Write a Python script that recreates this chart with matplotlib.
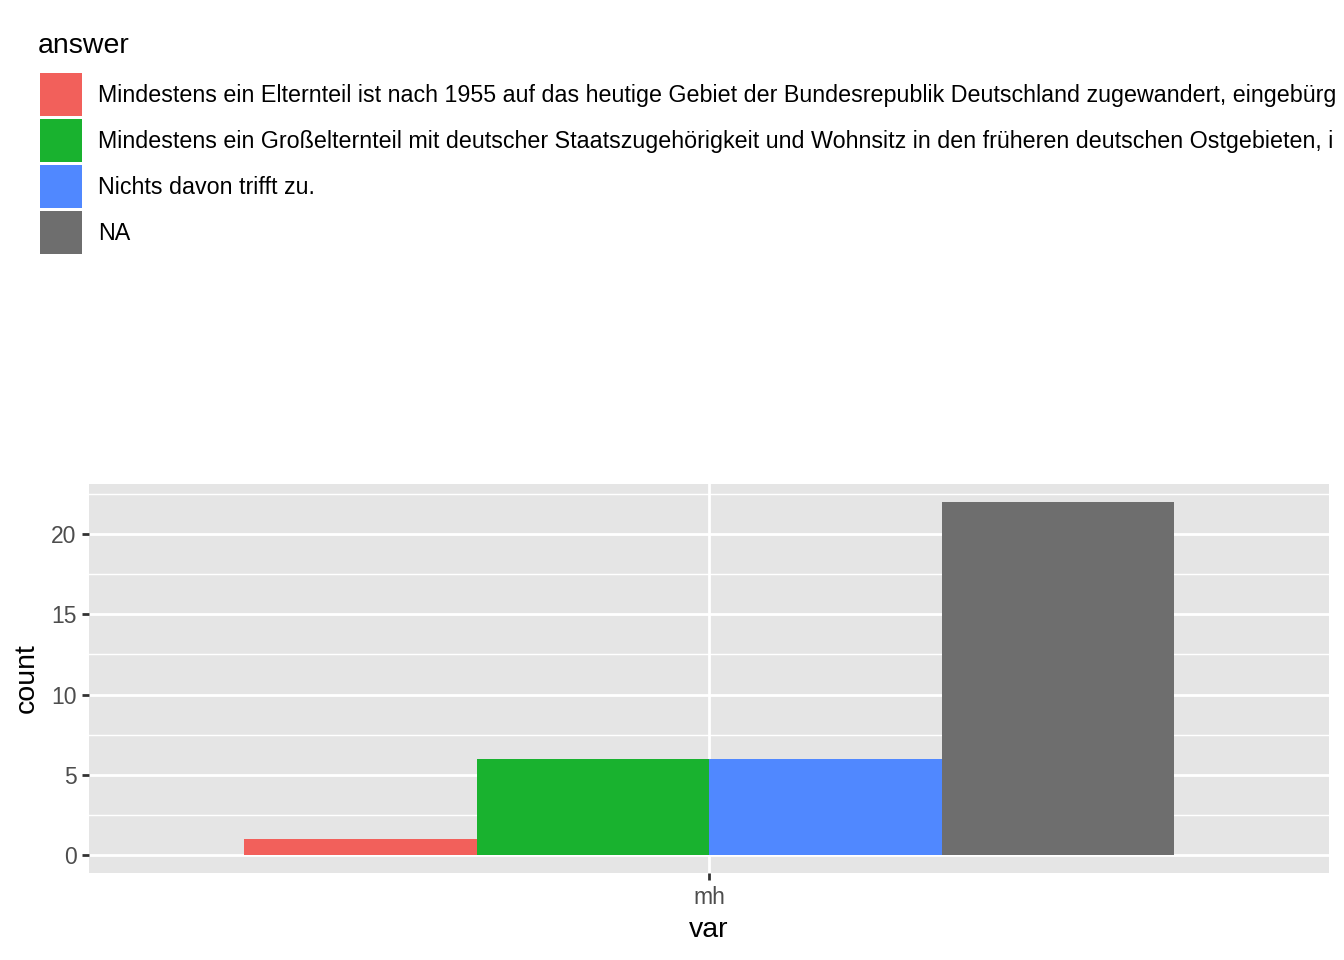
import numpy as np
import matplotlib
matplotlib.use("Agg")
import matplotlib.pyplot as plt
from matplotlib.patches import Patch

# Daten (Legendentexte so weit, wie sie im Bild sichtbar sind)
var_cats = ["mh"]
answers = [
    "Mindestens ein Elternteil ist nach 1955 auf das heutige Gebiet der Bundesrepublik Deutschland zugewandert, eingebürg",
    "Mindestens ein Großelternteil mit deutscher Staatszugehörigkeit und Wohnsitz in den früheren deutschen Ostgebieten, i",
    "Nichts davon trifft zu.",
    "NA",
]
counts = [1, 6, 6, 22]
colors = ["#F2605B", "#19B22F", "#5088FF", "#6E6E6E"]

plt.rcParams["font.family"] = ["Liberation Sans", "DejaVu Sans"]

fig = plt.figure(figsize=(13.44, 9.6), dpi=100)
ax = fig.add_axes([89 / 1344, 87 / 960, 1240 / 1344, 389 / 960])
ax.set_facecolor("#E5E5E5")

# dodge wie ggplot: Gesamtbreite 0.9
n = len(answers)
w = 0.9 / n
x0 = np.arange(len(var_cats))
for i, (lab, c, col) in enumerate(zip(answers, counts, colors)):
    off = -0.45 + w * (i + 0.5)
    ax.bar(x0 + off, [c], width=w, color=col, label=lab, zorder=3)

ax.set_xlim(-0.6, 0.6)
ax.set_ylim(-1.1, 23.1)
ax.set_xticks(x0)
ax.set_xticklabels(var_cats)
ax.set_yticks([0, 5, 10, 15, 20])
ax.set_yticks([2.5, 7.5, 12.5, 17.5, 22.5], minor=True)
ax.grid(which="major", color="white", linewidth=2.0, zorder=1)
ax.grid(which="minor", axis="y", color="white", linewidth=1.0, zorder=1)
ax.tick_params(which="major", length=5, width=2, color="#333333",
               labelcolor="#4D4D4D", labelsize=16.5, pad=4)
ax.tick_params(which="minor", length=0)
for s in ax.spines.values():
    s.set_visible(False)

ax.set_xlabel("var", fontsize=20.5, labelpad=6)
ax.set_ylabel("count", fontsize=20.5, labelpad=8)

# Legende oben links (Titel separat)
fig.text(38 / 1344, 1 - 46 / 960, "answer", fontsize=20.5, ha="left", va="center")
handles = [Patch(facecolor=col, edgecolor="none") for col in colors]
fs = 16.75
px = fs * 100 / 72
hh = (43 / px - 0.245) / 0.65
leg = fig.legend(handles, answers, loc="upper left",
                 bbox_to_anchor=(40 / 1344, 1 - 73 / 960),
                 frameon=False, fontsize=fs,
                 handlelength=42 / px, handleheight=hh,
                 labelspacing=3 / px, handletextpad=16 / px,
                 borderpad=0, borderaxespad=0)

fig.savefig("out.png", dpi=100)
